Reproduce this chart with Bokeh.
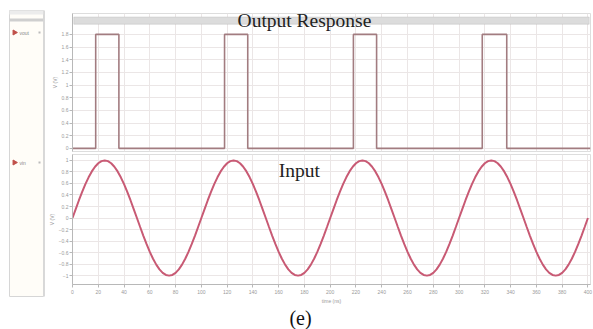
from bokeh.plotting import figure
from bokeh.layouts import row, column
from bokeh.models import Range1d, FixedTicker, BoxAnnotation, Label
from bokeh.embed import file_html
from bokeh.resources import INLINE

# ---------------- data ----------------
time_ns = [0.0, 2.5, 5.0, 7.5, 10.0, 12.5, 15.0, 17.5, 20.0, 22.5, 25.0, 27.5, 30.0, 32.5, 35.0, 37.5, 40.0, 42.5, 45.0, 47.5,
           50.0, 52.5, 55.0, 57.5, 60.0, 62.5, 65.0, 67.5, 70.0, 72.5, 75.0, 77.5, 80.0, 82.5, 85.0, 87.5, 90.0, 92.5, 95.0, 97.5,
           100.0, 102.5, 105.0, 107.5, 110.0, 112.5, 115.0, 117.5, 120.0, 122.5, 125.0, 127.5, 130.0, 132.5, 135.0, 137.5, 140.0, 142.5, 145.0, 147.5,
           150.0, 152.5, 155.0, 157.5, 160.0, 162.5, 165.0, 167.5, 170.0, 172.5, 175.0, 177.5, 180.0, 182.5, 185.0, 187.5, 190.0, 192.5, 195.0, 197.5,
           200.0, 202.5, 205.0, 207.5, 210.0, 212.5, 215.0, 217.5, 220.0, 222.5, 225.0, 227.5, 230.0, 232.5, 235.0, 237.5, 240.0, 242.5, 245.0, 247.5,
           250.0, 252.5, 255.0, 257.5, 260.0, 262.5, 265.0, 267.5, 270.0, 272.5, 275.0, 277.5, 280.0, 282.5, 285.0, 287.5, 290.0, 292.5, 295.0, 297.5,
           300.0, 302.5, 305.0, 307.5, 310.0, 312.5, 315.0, 317.5, 320.0, 322.5, 325.0, 327.5, 330.0, 332.5, 335.0, 337.5, 340.0, 342.5, 345.0, 347.5,
           350.0, 352.5, 355.0, 357.5, 360.0, 362.5, 365.0, 367.5, 370.0, 372.5, 375.0, 377.5, 380.0, 382.5, 385.0, 387.5, 390.0, 392.5, 395.0, 397.5,
           400.0]
vin = [0.0, 0.156, 0.309, 0.454, 0.588, 0.707, 0.809, 0.891, 0.951, 0.988, 1.0, 0.988, 0.951, 0.891, 0.809, 0.707, 0.588, 0.454, 0.309, 0.156,
       0.0, -0.156, -0.309, -0.454, -0.588, -0.707, -0.809, -0.891, -0.951, -0.988, -1.0, -0.988, -0.951, -0.891, -0.809, -0.707, -0.588, -0.454, -0.309, -0.156,
       0.0, 0.156, 0.309, 0.454, 0.588, 0.707, 0.809, 0.891, 0.951, 0.988, 1.0, 0.988, 0.951, 0.891, 0.809, 0.707, 0.588, 0.454, 0.309, 0.156,
       0.0, -0.156, -0.309, -0.454, -0.588, -0.707, -0.809, -0.891, -0.951, -0.988, -1.0, -0.988, -0.951, -0.891, -0.809, -0.707, -0.588, -0.454, -0.309, -0.156,
       0.0, 0.156, 0.309, 0.454, 0.588, 0.707, 0.809, 0.891, 0.951, 0.988, 1.0, 0.988, 0.951, 0.891, 0.809, 0.707, 0.588, 0.454, 0.309, 0.156,
       0.0, -0.156, -0.309, -0.454, -0.588, -0.707, -0.809, -0.891, -0.951, -0.988, -1.0, -0.988, -0.951, -0.891, -0.809, -0.707, -0.588, -0.454, -0.309, -0.156,
       0.0, 0.156, 0.309, 0.454, 0.588, 0.707, 0.809, 0.891, 0.951, 0.988, 1.0, 0.988, 0.951, 0.891, 0.809, 0.707, 0.588, 0.454, 0.309, 0.156,
       0.0, -0.156, -0.309, -0.454, -0.588, -0.707, -0.809, -0.891, -0.951, -0.988, -1.0, -0.988, -0.951, -0.891, -0.809, -0.707, -0.588, -0.454, -0.309, -0.156,
       0.0]

vout_t = [0, 18, 18, 36, 36, 118, 118, 136, 136, 218, 218, 236, 236, 318, 318, 337, 337, 402]
vout_v = [0, 0, 1.8, 1.8, 0, 0, 1.8, 1.8, 0, 0, 1.8, 1.8, 0, 0, 1.8, 1.8, 0, 0]

x_ticks = [0, 20, 40, 60, 80, 100, 120, 140, 160, 180, 200, 220, 240, 260, 280, 300, 320, 340, 360, 380, 400]
top_yticks = [0.0, 0.2, 0.4, 0.6, 0.8, 1.0, 1.2, 1.4, 1.6, 1.8]
bot_yticks = [-1.0, -0.8, -0.6, -0.4, -0.2, 0.0, 0.2, 0.4, 0.6, 0.8, 1.0]
legend_names = ["vout", "vin"]
title_text = "Output Response"
input_text = "Input"
caption_text = "(e)"

PULSE = "#a27c80"
SINE = "#c85a74"
GRID = "#ebe6e6"
AX = "#b8b8b8"
LAB = "#9a9a9a"

x_range = Range1d(0, 402)


def style(p):
    p.toolbar.logo = None
    p.xgrid.grid_line_color = GRID
    p.ygrid.grid_line_color = GRID
    p.outline_line_color = "#dddddd"
    for ax in p.yaxis:
        ax.axis_line_color = AX
        ax.major_tick_line_color = AX
        ax.minor_tick_line_color = AX
        ax.major_tick_out = 3
        ax.minor_tick_out = 1
        ax.major_tick_in = 0
        ax.minor_tick_in = 0
        ax.major_label_text_font_size = "5px"
        ax.major_label_text_color = LAB
        ax.major_label_standoff = 1
        ax.axis_label_text_font_size = "5px"
        ax.axis_label_text_color = LAB
        ax.axis_label_text_font_style = "normal"
        ax.axis_label_standoff = 1


# ---------------- top panel: output ----------------
top = figure(width=548, height=153, x_range=x_range, y_range=Range1d(-0.05, 2.13),
             x_axis_location=None, toolbar_location=None, output_backend="svg",
             min_border_left=20, min_border_right=3, min_border_top=13, min_border_bottom=2)
style(top)
top.yaxis.ticker = FixedTicker(ticks=top_yticks)
top.xgrid.ticker = FixedTicker(ticks=x_ticks)
top.yaxis.axis_label = "V (V)"
top.line(vout_t, vout_v, line_color=PULSE, line_width=1.6)
top.add_layout(BoxAnnotation(left=1, right=401, bottom=1.96, top=2.075,
                             fill_color="#dcdcdc", fill_alpha=1.0,
                             line_color="#a8a8a8", line_width=1))
top.add_layout(Label(x=180, y=2.02, text=title_text, text_align="center", text_baseline="middle",
                     text_font="Liberation Serif", text_font_size="19.5px", text_color="#222222"))

# ---------------- bottom panel: input ----------------
bot = figure(width=548, height=153, x_range=x_range, y_range=Range1d(-1.154, 1.103),
             toolbar_location=None, output_backend="svg",
             min_border_left=20, min_border_right=3, min_border_top=1, min_border_bottom=0)
style(bot)
bot.yaxis.ticker = FixedTicker(ticks=bot_yticks)
bot.yaxis.axis_label = "V (V)"
bot.xaxis.ticker = FixedTicker(ticks=x_ticks)
bot.xaxis.axis_label = "time (ns)"
xa = bot.xaxis[0]
xa.axis_line_color = AX
xa.major_tick_line_color = AX
xa.minor_tick_line_color = AX
xa.major_tick_out = 3
xa.major_tick_in = 0
xa.minor_tick_out = 1
xa.minor_tick_in = 0
xa.major_label_text_font_size = "5px"
xa.major_label_text_color = LAB
xa.major_label_standoff = 2
xa.axis_label_text_font_size = "5px"
xa.axis_label_text_color = LAB
xa.axis_label_text_font_style = "normal"
xa.axis_label_standoff = 1
bot.line(time_ns, vin, line_color=SINE, line_width=2)
bot.add_layout(Label(x=176, y=0.83, text=input_text, text_align="center", text_baseline="middle",
                     text_font="Liberation Serif", text_font_size="19.5px", text_color="#222222"))

# ---------------- caption strip ----------------
cap = figure(width=593, height=23, x_range=Range1d(0, 593), y_range=Range1d(23, 0),
             x_axis_location=None, y_axis_location=None, toolbar_location=None,
             output_backend="svg", min_border=0)
cap.toolbar.logo = None
cap.xgrid.visible = False
cap.ygrid.visible = False
cap.outline_line_color = None
cap.add_layout(Label(x=300, y=11.5, text=caption_text, text_align="center", text_baseline="middle",
                     text_font="Liberation Serif", text_font_size="20px", text_color="#111111"))

# ---------------- left sidebar (signal list) ----------------
side = figure(width=45, height=300, x_range=Range1d(0, 45), y_range=Range1d(300, 0),
              x_axis_location=None, y_axis_location=None, toolbar_location=None,
              output_backend="svg", min_border=0)
side.toolbar.logo = None
side.xgrid.visible = False
side.ygrid.visible = False
side.outline_line_color = None
side.background_fill_color = "white"
side.border_fill_color = "white"
side.quad(left=[9], right=[43], top=[10], bottom=[296], fill_color="#fffdf8",
          line_color="#d6d6d6", line_width=1)
side.quad(left=[9], right=[43], top=[10], bottom=[14], fill_color="#ececec", line_color=None)
side.quad(left=[9], right=[43], top=[18], bottom=[21], fill_color="#cfcfcf", line_color=None)
side.quad(left=[43], right=[45], top=[10], bottom=[296], fill_color="#d9d9d9", line_color=None)
item_y = [32, 162]
side.scatter([14, 14], item_y, marker="triangle", angle=-1.5708, size=5,
             fill_color="#c0504a", line_color="#c0504a")
side.text([19, 19], item_y, text=legend_names, text_font_size="5px", text_color="#8a8a8a",
          text_baseline="middle")
side.scatter([39, 39], item_y, marker="square", size=2, fill_color="#bbbbbb", line_color=None)

layout = column(row(side, column(top, bot, spacing=0), spacing=0), cap, spacing=0)

open("out.html", "w").write(file_html(layout, INLINE))
